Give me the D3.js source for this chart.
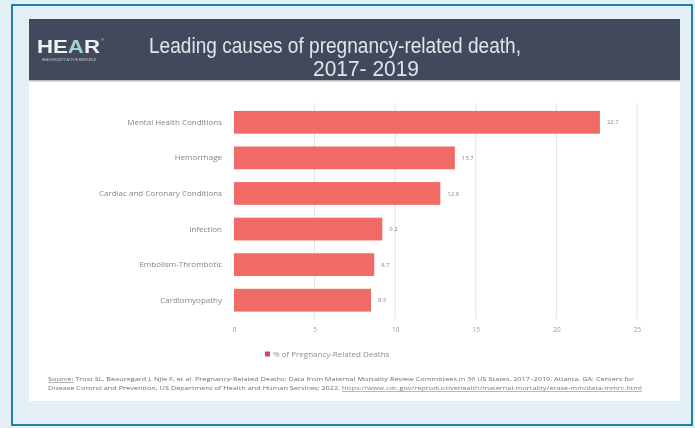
<!DOCTYPE html>
<html>
<head>
<meta charset="utf-8">
<script src="https://cdn.jsdelivr.net/npm/d3@7"></script>
<style>
  html, body { margin: 0; padding: 0; background: #e2f0f6; }
  svg { display: block; }
</style>
</head>
<body>
<svg id="chart" width="695" height="428"></svg>
<script>
// Causes of pregnancy-related death, share of deaths (%)
const causes = [
  "Mental Health Conditions",
  "Hemorrhage",
  "Cardiac and Coronary Conditions",
  "Infection",
  "Embolism-Thrombotic",
  "Cardiomyopathy"
];
const shares = [22.7, 13.7, 12.8, 9.2, 8.7, 8.5];
const xTicks = [0, 5, 10, 15, 20, 25];
const seriesName = "% of Pregnancy-Related Deaths";
const titleLines = ["Leading causes of pregnancy-related death,", "2017- 2019"];
const sourceLines = [
  "Trost SL, Beauregard J, Njie F, et al. Pregnancy-Related Deaths: Data from Maternal Mortality Review Committees in 36 US States, 2017\u20132019. Atlanta, GA: Centers for",
  "Disease Control and Prevention, US Department of Health and Human Services; 2022. "
];
const sourceUrl = "https://www.cdc.gov/reproductivehealth/maternal-mortality/erase-mm/data-mmrc.html";

const svg = d3.select("#chart");

// soft focus used on the slide content
const defs = svg.append("defs");
defs.append("filter").attr("id", "soft").attr("x", "-5%").attr("y", "-5%").attr("width", "110%").attr("height", "110%")
  .append("feGaussianBlur").attr("stdDeviation", 0.45);

// page frame
svg.append("rect").attr("x", 0).attr("y", 0).attr("width", 695).attr("height", 428).attr("fill", "#e2f0f6");
svg.append("rect").attr("x", 12).attr("y", 5).attr("width", 680).attr("height", 420)
  .attr("fill", "none").attr("stroke", "#1f7fa6").attr("stroke-width", 2);

// slide
const slide = svg.append("g").attr("filter", "url(#soft)");
slide.append("rect").attr("x", 29).attr("y", 19).attr("width", 651).attr("height", 382).attr("fill", "#ffffff");

// header band
slide.append("rect").attr("x", 29).attr("y", 19).attr("width", 651).attr("height", 62).attr("fill", "#434a5d");
slide.append("rect").attr("x", 29).attr("y", 80).attr("width", 651).attr("height", 1.5).attr("fill", "#b9bcc4");

// logo
const logo = slide.append("text").attr("x", 37).attr("y", 52.5)
  .attr("font-family", "Liberation Sans, Arial, sans-serif").attr("font-weight", "bold")
  .attr("font-size", 19).attr("textLength", 63).attr("lengthAdjust", "spacingAndGlyphs");
logo.append("tspan").attr("fill", "#eef0f2").text("HE");
logo.append("tspan").attr("fill", "#9fd8c8").text("A");
logo.append("tspan").attr("fill", "#eef0f2").text("R");
slide.append("text").attr("x", 101).attr("y", 41).attr("font-size", 4).attr("fill", "#d0d3d8")
  .attr("font-family", "Liberation Sans, Arial, sans-serif").text("\u00ae");
slide.append("text").attr("x", 42).attr("y", 60.5).attr("font-size", 3).attr("fill", "#c9ccd3")
  .attr("font-family", "Liberation Sans, Arial, sans-serif")
  .attr("textLength", 54).attr("lengthAdjust", "spacingAndGlyphs")
  .text("HEALTH EQUITY ACTION RESOURCE");

// title
slide.append("text").attr("x", 335).attr("y", 53)
  .attr("text-anchor", "middle").attr("fill", "#e2e4e8")
  .attr("font-family", "Liberation Sans, Arial, sans-serif").attr("font-size", 22)
  .attr("textLength", 372).attr("lengthAdjust", "spacingAndGlyphs")
  .text(titleLines[0]);
slide.append("text").attr("x", 366).attr("y", 76)
  .attr("text-anchor", "middle").attr("fill", "#e2e4e8")
  .attr("font-family", "Liberation Sans, Arial, sans-serif").attr("font-size", 22)
  .attr("textLength", 106).attr("lengthAdjust", "spacingAndGlyphs")
  .text(titleLines[1]);

// chart scales
const x = d3.scaleLinear().domain([0, 25]).range([234, 637]);
const y = d3.scaleBand().domain(causes).range([104.5, 318]).paddingInner(0.36).paddingOuter(0.18);

const font = "Open Sans, Liberation Sans, Arial, sans-serif";

// vertical gridlines
slide.append("g").selectAll("line").data(xTicks.filter(d => d > 0)).join("line")
  .attr("x1", d => x(d)).attr("x2", d => x(d))
  .attr("y1", 103).attr("y2", 319)
  .attr("stroke", "#e3e3e3").attr("stroke-width", 1);

// x axis labels
const xAxis = d3.axisBottom(x).tickValues(xTicks).tickSize(0).tickPadding(0);
const gx = slide.append("g").attr("transform", "translate(0,327)").call(xAxis);
gx.select(".domain").remove();
gx.selectAll("text").attr("font-family", font).attr("font-size", 6.5).attr("fill", "#999999");

// y axis labels
const yAxis = d3.axisLeft(y).tickSize(0).tickPadding(0);
const gy = slide.append("g").attr("transform", "translate(222,0)").call(yAxis);
gy.select(".domain").remove();
gy.selectAll("text").attr("font-family", font).attr("font-size", 8).attr("fill", "#858585");

// bars
slide.append("g").selectAll("rect").data(causes).join("rect")
  .attr("x", x(0)).attr("y", d => y(d))
  .attr("width", (d, i) => x(shares[i]) - x(0)).attr("height", y.bandwidth())
  .attr("fill", "#f06b66");

// value labels
slide.append("g").selectAll("text").data(causes).join("text")
  .attr("x", (d, i) => x(shares[i]) + 7).attr("y", d => y(d) + y.bandwidth() / 2)
  .attr("dy", "0.35em")
  .attr("font-family", font).attr("font-size", 6).attr("fill", "#8a8a8a")
  .text((d, i) => shares[i].toFixed(1));

// legend
slide.append("rect").attr("x", 265).attr("y", 351.5).attr("width", 5).attr("height", 5).attr("fill", "#d4475f");
slide.append("text").attr("x", 273).attr("y", 354).attr("dy", "0.35em")
  .attr("font-family", font).attr("font-size", 8).attr("fill", "#8f8f8f")
  .text(seriesName);

// source note
const src1 = slide.append("text").attr("x", 48).attr("y", 381)
  .attr("font-family", font).attr("font-size", 5.3).attr("fill", "#707070")
  .attr("textLength", 586).attr("lengthAdjust", "spacingAndGlyphs");
src1.append("tspan").attr("text-decoration", "underline").text("Source:");
src1.append("tspan").text(" " + sourceLines[0]);
const src2 = slide.append("text").attr("x", 48).attr("y", 390)
  .attr("font-family", font).attr("font-size", 5.3).attr("fill", "#707070")
  .attr("textLength", 594).attr("lengthAdjust", "spacingAndGlyphs");
src2.append("tspan").text(sourceLines[1]);
src2.append("tspan").attr("text-decoration", "underline").attr("fill", "#7a7a8a").text(sourceUrl);
</script>
</body>
</html>
